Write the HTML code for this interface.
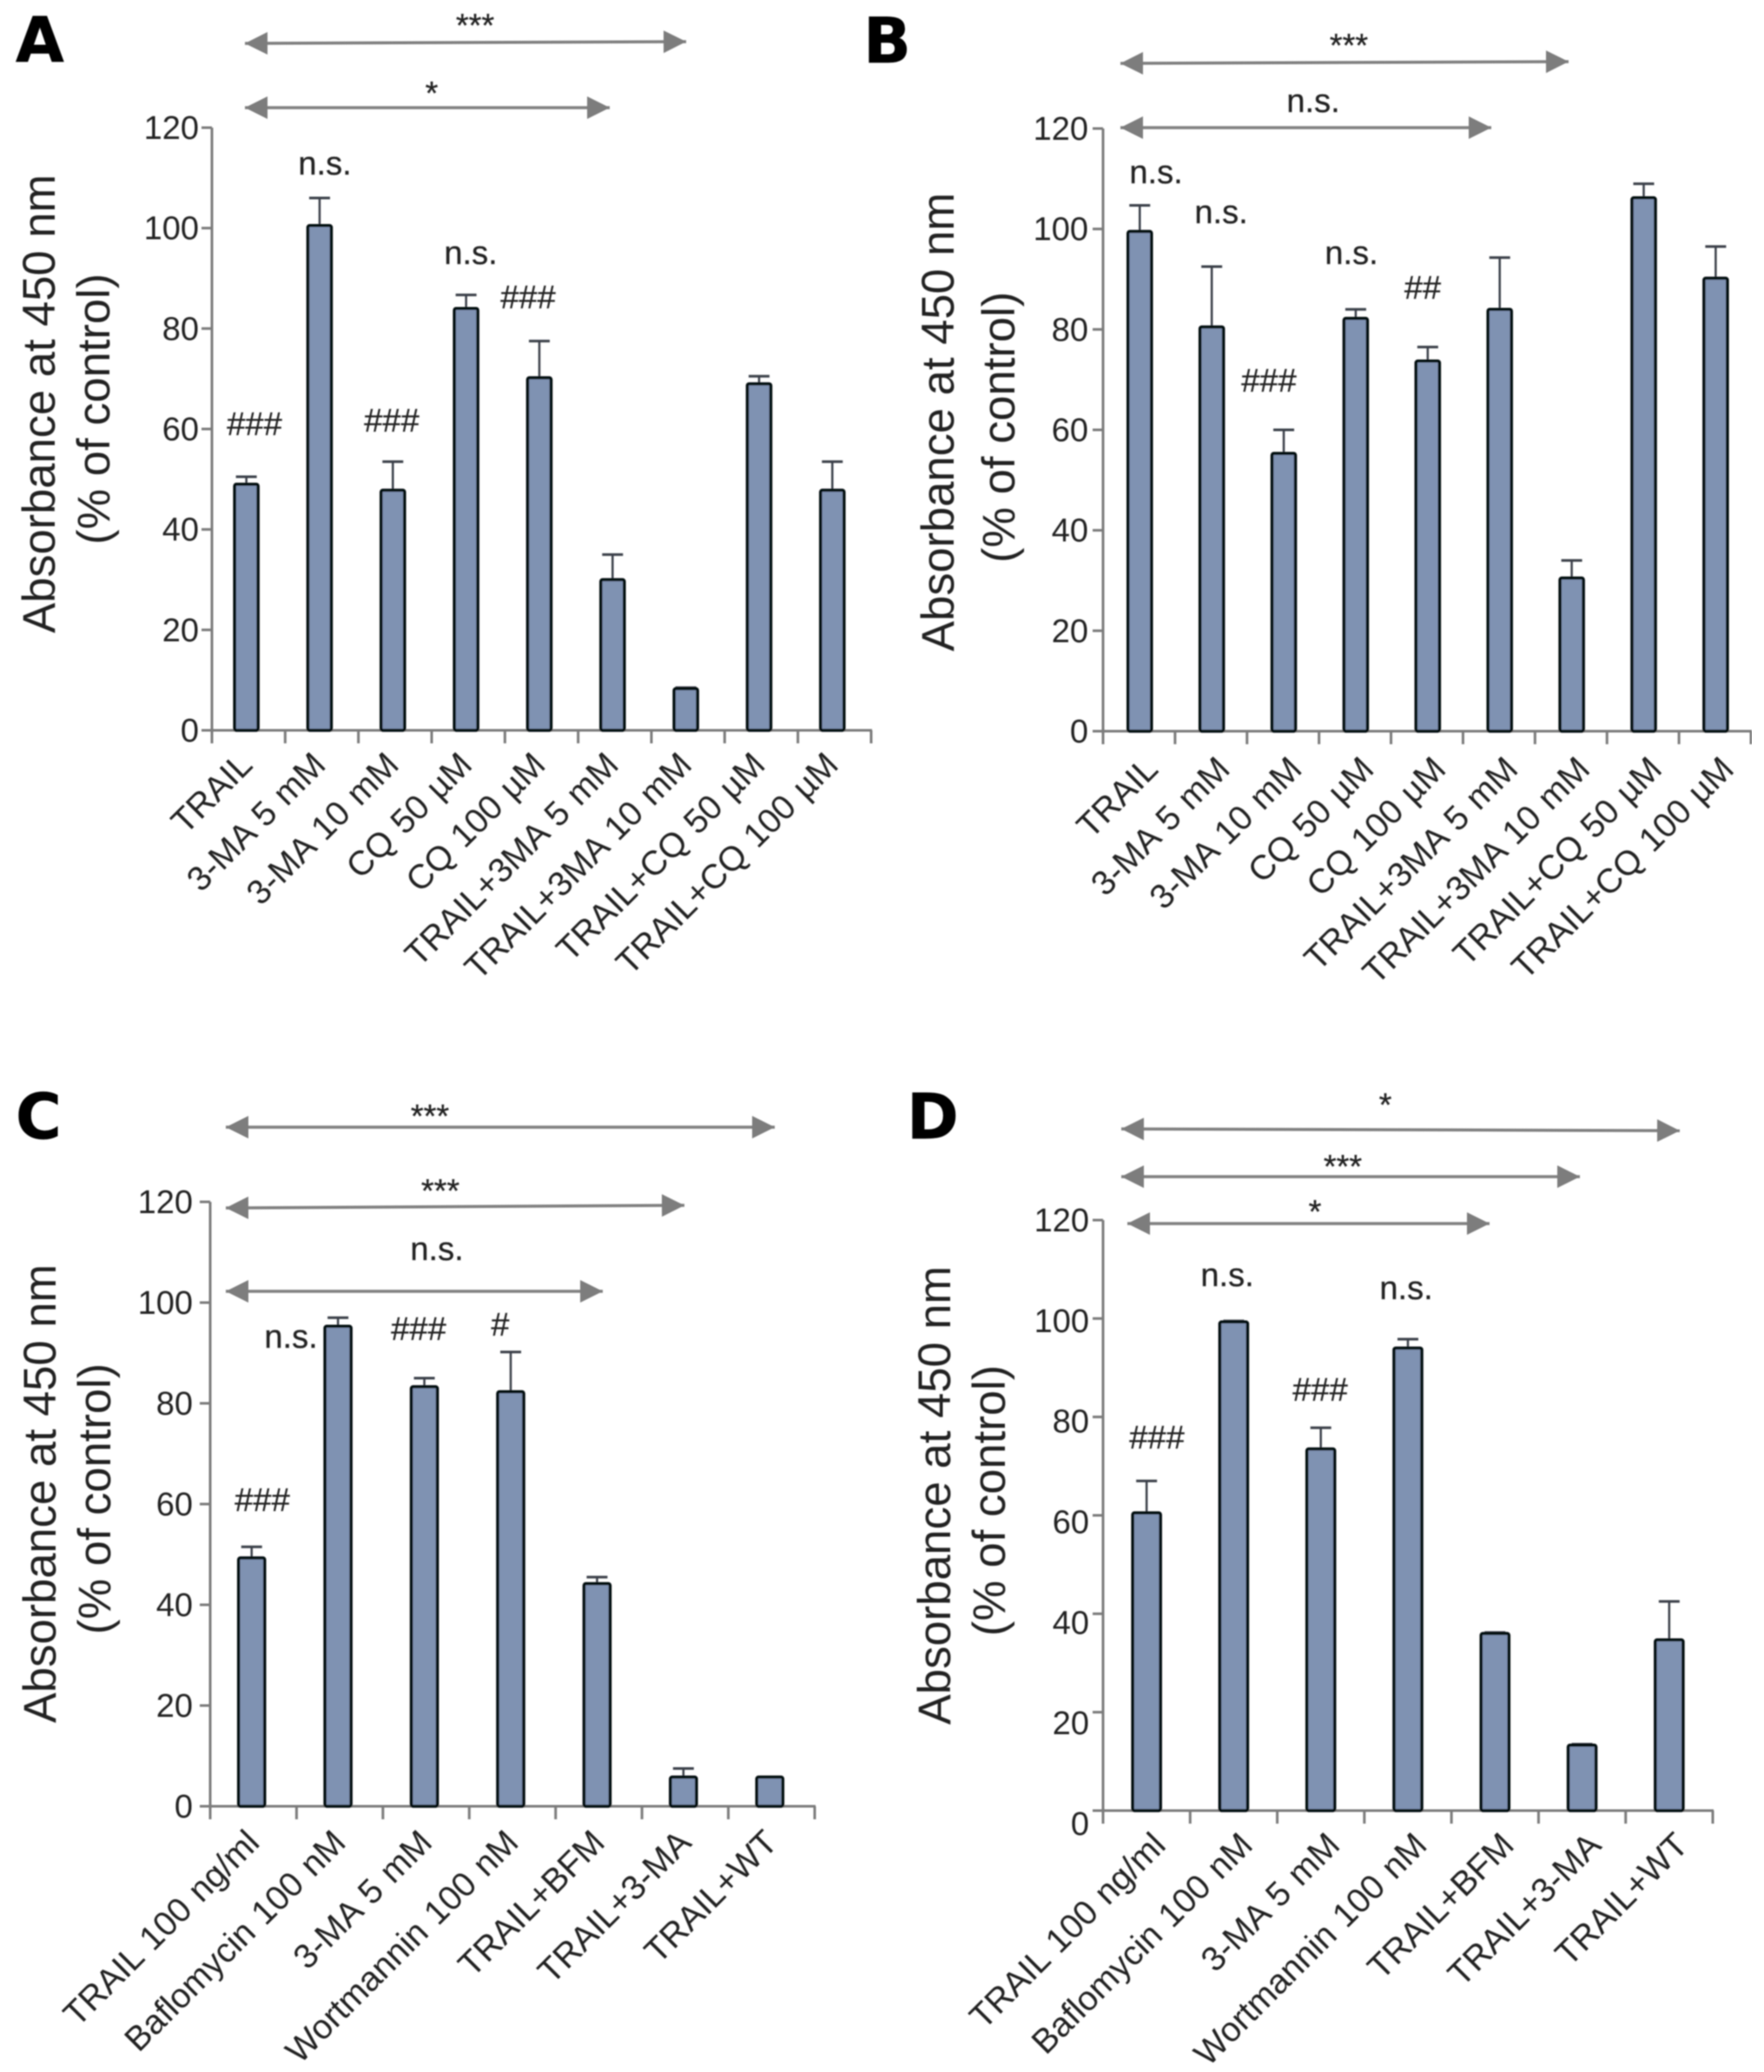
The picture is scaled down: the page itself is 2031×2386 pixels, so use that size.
<!DOCTYPE html>
<html lang="en">
<head>
<meta charset="utf-8">
<title>Absorbance at 450 nm panels</title>
<style>
html,body{margin:0;padding:0;background:#fff;width:2031px;height:2386px;overflow:hidden}
svg{display:block}
text{font-family:"Liberation Sans",Arial,sans-serif;fill:#242424}
.note{font-size:38px;text-anchor:middle;stroke:#242424;stroke-width:0.3}
.letter{font-family:"DejaVu Sans","Liberation Sans",sans-serif;font-weight:bold;font-size:72px;fill:#000;stroke:#000;stroke-width:0.5}
.arrow{stroke:#808080;stroke-width:3.5;fill:none;marker-start:url(#head-start);marker-end:url(#head-end)}
</style>
</head>
<body>
<svg id="figure" xmlns="http://www.w3.org/2000/svg" width="2031" height="2386" viewBox="0 0 2031 2386">
<defs>
<marker id="head-end" markerUnits="userSpaceOnUse" markerWidth="28" markerHeight="30" refX="26" refY="15" orient="auto"><polygon points="0,2 26,15 0,28" fill="#7d7d7d"/></marker>
<marker id="head-start" markerUnits="userSpaceOnUse" markerWidth="28" markerHeight="30" refX="2" refY="15" orient="auto"><polygon points="28,2 2,15 28,28" fill="#7d7d7d"/></marker>
<filter id="soft" x="0" y="0" width="100%" height="100%"><feGaussianBlur stdDeviation="0.8"/></filter>
</defs>
<g id="root" filter="url(#soft)">
<g>
<text class="letter" x="18" y="71">A</text>
<text class="letter" x="994" y="72">B</text>
<text class="letter" x="18" y="1311">C</text>
<text class="letter" x="1044" y="1311">D</text>
</g>
<g>
<line class="arrow" x1="282" y1="50" x2="790" y2="48"/>
<line class="arrow" x1="282" y1="124" x2="702" y2="124"/>
<text class="note" x="547" y="42">***</text>
<text class="note" x="497" y="120">*</text>
<text class="note" x="374" y="201">n.s.</text>
<text class="note" x="542" y="304">n.s.</text>
<text class="note" x="608" y="355">###</text>
<text class="note" x="293" y="501">###</text>
<text class="note" x="451" y="497">###</text>
</g>
<g>
<line class="arrow" x1="1290" y1="73" x2="1806" y2="71"/>
<line class="arrow" x1="1290" y1="147" x2="1717" y2="147"/>
<text class="note" x="1553" y="65">***</text>
<text class="note" x="1512" y="129">n.s.</text>
<text class="note" x="1331" y="211">n.s.</text>
<text class="note" x="1406" y="257">n.s.</text>
<text class="note" x="1556" y="304">n.s.</text>
<text class="note" x="1638" y="344">##</text>
<text class="note" x="1461" y="451">###</text>
</g>
<g>
<line class="arrow" x1="260" y1="1298" x2="892" y2="1298"/>
<line class="arrow" x1="260" y1="1391" x2="788" y2="1388"/>
<line class="arrow" x1="260" y1="1487" x2="694" y2="1487"/>
<text class="note" x="495" y="1298">***</text>
<text class="note" x="507" y="1384">***</text>
<text class="note" x="503" y="1451">n.s.</text>
<text class="note" x="335" y="1552">n.s.</text>
<text class="note" x="302" y="1740">###</text>
<text class="note" x="482" y="1543">###</text>
<text class="note" x="576" y="1538">#</text>
</g>
<g>
<line class="arrow" x1="1291" y1="1300" x2="1934" y2="1302"/>
<line class="arrow" x1="1291" y1="1355" x2="1819" y2="1355"/>
<line class="arrow" x1="1298" y1="1409" x2="1715" y2="1409"/>
<text class="note" x="1595" y="1285">*</text>
<text class="note" x="1546" y="1356">***</text>
<text class="note" x="1514" y="1408">*</text>
<text class="note" x="1413" y="1481">n.s.</text>
<text class="note" x="1619" y="1496">n.s.</text>
<text class="note" x="1332" y="1668">###</text>
<text class="note" x="1520" y="1613">###</text>
</g>
</g>
</svg>
<script>
var yTickLabels = [0, 20, 40, 60, 80, 100, 120];

var categoriesA = ["TRAIL", "3-MA 5 mM", "3-MA 10 mM", "CQ 50 µM", "CQ 100 µM", "TRAIL+3MA 5 mM", "TRAIL+3MA 10 mM", "TRAIL+CQ 50 µM", "TRAIL+CQ 100 µM"];
var valuesA = [49, 100.5, 47.8, 84, 70.2, 30, 8.3, 69, 47.8];
var errorTopsA = [50.5, 106, 53.5, 86.7, 77.5, 35, 8.5, 70.5, 53.5];

var categoriesB = ["TRAIL", "3-MA 5 mM", "3-MA 10 mM", "CQ 50 µM", "CQ 100 µM", "TRAIL+3MA 5 mM", "TRAIL+3MA 10 mM", "TRAIL+CQ 50 µM", "TRAIL+CQ 100 µM"];
var valuesB = [99.5, 80.5, 55.3, 82.2, 73.7, 84, 30.5, 106.2, 90.2];
var errorTopsB = [104.7, 92.5, 60, 84, 76.5, 94.3, 34, 109, 96.5];

var categoriesC = ["TRAIL 100 ng/ml", "Baflomycin 100 nM", "3-MA 5 mM", "Wortmannin 100 nM", "TRAIL+BFM", "TRAIL+3-MA", "TRAIL+WT"];
var valuesC = [49.3, 95.3, 83.3, 82.3, 44.2, 5.8, 5.8];
var errorTopsC = [51.5, 97, 85, 90.2, 45.5, 7.5, 5.8];

var categoriesD = ["TRAIL 100 ng/ml", "Baflomycin 100 nM", "3-MA 5 mM", "Wortmannin 100 nM", "TRAIL+BFM", "TRAIL+3-MA", "TRAIL+WT"];
var valuesD = [60.5, 99.3, 73.5, 94, 36, 13.3, 34.7];
var errorTopsD = [67, 99.5, 77.8, 95.8, 36.2, 13.5, 42.5];

var NS = "http://www.w3.org/2000/svg";
var root = document.getElementById("root");

function mk(parent, tag, attrs, text) {
  var el = document.createElementNS(NS, tag);
  for (var k in attrs) { el.setAttribute(k, attrs[k]); }
  if (text !== undefined) { el.textContent = text; }
  parent.appendChild(el);
  return el;
}

function drawPanel(p, categories, values, errorTops) {
  var n = categories.length;
  var step = (p.x1 - p.x0) / n;
  function yScale(v) { return p.y0 + (p.y120 - p.y0) * v / 120; }
  function xScale(i) { return p.x0 + (i + p.barOffset) * step; }
  function labelY(v) { return p.labelY0 + (p.labelY120 - p.labelY0) * v / 120; }

  var g = mk(root, "g", {});
  
  

  var title = mk(g, "text", {x: 0, y: 0, "font-size": 52.5, "text-anchor": "middle",
    transform: "translate(" + p.titleX + " " + p.titleY + ") rotate(-90)"}, "Absorbance at 450 nm");
  
  
  var title2 = mk(g, "text", {x: 0, y: 0, "font-size": 52.5, "text-anchor": "middle",
    transform: "translate(" + (p.titleX + p.subGap) + " " + (p.titleY + 6) + ") rotate(-90)"}, "(% of control)");
  
  

  var yAxis = mk(g, "line", {x1: p.x0, x2: p.x0, y1: yScale(120), y2: p.y0 + 15, stroke: "#7b7b7b", "stroke-width": 3});
  
  
  var xAxis = mk(g, "line", {x1: p.x0 - 11, x2: p.x1 + 1, y1: p.y0, y2: p.y0, stroke: "#7b7b7b", "stroke-width": 3});
  
  

  yTickLabels.forEach(function (t) {
    var tick = mk(g, "line", {x1: p.x0 - 12, x2: p.x0, y1: yScale(t), y2: yScale(t), stroke: "#7b7b7b", "stroke-width": 3});
    
    
    var lab = mk(g, "text", {x: p.x0 - p.tickGap, y: labelY(t) + 13, "font-size": 38, "text-anchor": "end"}, String(t));
    
    
  });

  for (var j = 0; j <= n; j++) {
    var xt = p.x0 + j * step;
    var xtick = mk(g, "line", {x1: xt, x2: xt, y1: p.y0, y2: p.y0 + 15, stroke: "#7b7b7b", "stroke-width": 3});
    
    
  }

  categories.forEach(function (c, i) {
    var cx = xScale(i);
    var top = yScale(values[i]);
    var errTop = yScale(errorTops[i]);

    var stem = mk(g, "line", {x1: cx, x2: cx, y1: errTop, y2: top, stroke: "#3a3f48", "stroke-width": 2.5});
    
    
    var cap = mk(g, "line", {x1: cx - 12, x2: cx + 12, y1: errTop, y2: errTop, stroke: "#3a3f48", "stroke-width": 3});
    
    

    var bar = mk(g, "rect", {x: cx - p.barWidth / 2, y: top, width: p.barWidth, height: p.y0 - top,
      rx: 2, fill: "#7f92b2", stroke: "#05080f", "stroke-width": 3.5});
    
    

    var tx = cx + p.labelDx;
    var ty = p.y0 + p.labelDy;
    var xl = mk(g, "text", {x: 0, y: 0, "font-size": 39.5, "word-spacing": 2, "text-anchor": "end",
      transform: "translate(" + tx + " " + ty + ") rotate(-45)"}, c);
    
    
  });
}

drawPanel({x0: 244, x1: 1003, y0: 841, y120: 147, labelY0: 841, labelY120: 147, barOffset: 0.47, barWidth: 27,
  labelDx: 9, labelDy: 42, tickGap: 15, titleX: 63, titleY: 465, subGap: 63}, categoriesA, valuesA, errorTopsA);
drawPanel({x0: 1270, x1: 2016, y0: 842, y120: 148, labelY0: 842, labelY120: 148, barOffset: 0.51, barWidth: 27,
  labelDx: 23, labelDy: 46, tickGap: 17, titleX: 1098, titleY: 486, subGap: 70}, categoriesB, valuesB, errorTopsB);
drawPanel({x0: 242, x1: 938, y0: 2080, y120: 1384, labelY0: 2080, labelY120: 1384, barOffset: 0.48, barWidth: 30,
  labelDx: 11, labelDy: 44, tickGap: 20, titleX: 64, titleY: 1720, subGap: 63}, categoriesC, valuesC, errorTopsC);
drawPanel({x0: 1270, x1: 1972, y0: 2085, y120: 1405, labelY0: 2100, labelY120: 1405, barOffset: 0.5, barWidth: 32,
  labelDx: 24, labelDy: 42, tickGap: 16, titleX: 1094, titleY: 1722, subGap: 63}, categoriesD, valuesD, errorTopsD);
</script>
</body>
</html>
